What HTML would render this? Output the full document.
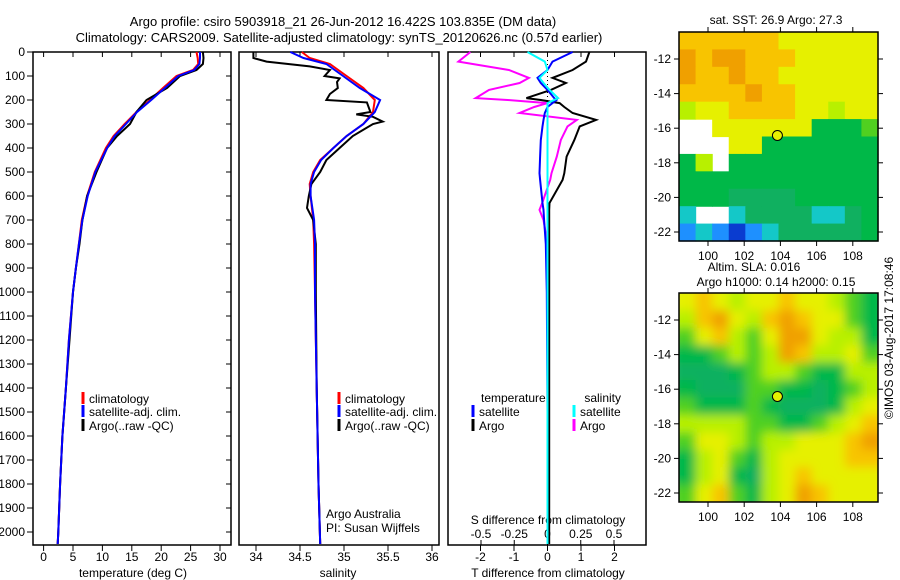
<!DOCTYPE html>
<html><head><meta charset="utf-8"><style>
body{margin:0;background:#fff;}
svg{display:block;font-family:"Liberation Sans",sans-serif;font-size:12px;}
</style></head><body>
<svg id="c" width="900" height="580" viewBox="0 0 900 580">
<defs>
<filter id="blur" x="-5%" y="-5%" width="110%" height="110%"><feGaussianBlur stdDeviation="5"/></filter>
<clipPath id="clipSla"><rect x="679" y="293" width="199" height="209"/></clipPath>
</defs>
<text x="343" y="26" text-anchor="middle" font-size="13">Argo profile: csiro 5903918_21 26-Jun-2012 16.422S 103.835E (DM data)</text>
<text x="339" y="42" text-anchor="middle" font-size="13">Climatology: CARS2009. Satellite-adjusted climatology: synTS_20120626.nc (0.57d earlier)</text>
<g id="g"></g>
</svg>
<script>
const depthsT=[0,25,50,75,100,150,200,250,300,350,400,500,600,700,800,900,1000,1200,1400,1600,1800,2000,2050];
const tClim=[26,26.2,26.3,25.4,22.6,20.3,18.1,15.8,13.8,11.9,10.6,8.7,7.4,6.5,6.0,5.5,5.0,4.3,3.8,3.2,2.8,2.5,2.4];
const tSat=[26.6,26.6,26.5,25.6,22.9,20.6,18.3,15.9,14.0,12.1,10.8,8.8,7.5,6.6,6.0,5.5,5.0,4.3,3.8,3.2,2.8,2.5,2.4];
const tArgo=[27.1,27.2,27.1,26.0,23.2,21.0,17.5,15.8,14.7,12.5,10.8,9.0,7.4,6.6,6.1,5.5,5.0,4.4,3.8,3.2,2.8,2.5,2.4];
const depthsS=[0,25,50,100,150,200,250,300,350,400,450,500,550,600,700,800,1000,1400,1800,2050];
const sClim=[34.52,34.61,34.84,35.03,35.22,35.35,35.33,35.22,35.03,34.88,34.73,34.65,34.61,34.62,34.65,34.66,34.67,34.69,34.71,34.73];
const sSat=[34.39,34.54,34.80,34.99,35.18,35.41,35.35,35.22,35.03,34.88,34.74,34.66,34.62,34.62,34.66,34.67,34.67,34.69,34.71,34.73];
const depthsSA=[0,25,40,60,75,100,110,125,150,175,200,210,250,260,270,290,300,350,400,450,500,550,600,650,700,800,1000,1400,1800,2050];
const sArgo=[33.97,33.97,34.12,34.61,34.84,34.78,34.95,34.92,34.93,34.84,34.80,35.26,35.30,35.14,35.33,35.44,35.33,35.10,34.95,34.80,34.73,34.63,34.60,34.58,34.65,34.68,34.68,34.69,34.71,34.73];
const depthsD=[0,40,75,108,129,158,192,200,213,229,254,283,310,367,436,505,533,629,658,700,800,1000,1500,2050];
const dTsat=[0.75,0.15,0,-0.3,-0.2,0,0.2,0.27,0.15,0,-0.08,-0.12,-0.15,-0.2,-0.22,-0.24,-0.22,-0.15,-0.12,-0.1,-0.05,-0.02,0,0];
const dTargo=[1.25,1.15,0.75,0.15,0.55,0.1,-0.63,-0.2,0.36,0.5,0.75,1.45,0.96,0.8,0.57,0.5,0.45,0.06,0.05,0.05,0.05,0.05,0.05,0.05];
const dSsat=[-0.15,-0.02,0,-0.06,-0.03,0.015,0.08,0.05,0,0,0,0,0,0,0,0,0,0,0,0,0,0,0,0];
const dSargo=[-0.58,-0.67,-0.29,-0.14,-0.21,-0.44,-0.54,-0.3,0,-0.1,-0.21,0.22,0.15,0.1,0.07,0.03,0.02,-0.04,-0.06,-0.03,0,0,0,0];
const tTicks=[0,5,10,15,20,25,30];
const sTicks=[34,34.5,35,35.5,36];
const dTTicks=[-2,-1,0,1,2];
const dSTicks=[-0.5,-0.25,0,0.25,0.5];
const depthTicks=[0,100,200,300,400,500,600,700,800,900,1000,1100,1200,1300,1400,1500,1600,1700,1800,1900,2000];
const lons=[100,102,104,106,108];
const lats=[-12,-14,-16,-18,-20,-22];
const sstGrid=[
[8,8,8,8,8,8,7,7,7,7,7,7],[9,8,9,9,8,8,8,7,7,7,7,7],[9,8,8,9,8,8,7,7,7,7,7,7],[8,8,8,8,9,8,8,7,7,7,7,7],
[6,7,7,8,8,8,8,7,7,6,7,7],[-1,-1,7,7,7,7,7,7,4,4,4,5],[-1,-1,-1,7,7,4,4,4,4,4,4,4],[4,6,-1,4,4,4,4,4,4,4,4,4],
[4,4,4,4,4,4,4,4,4,4,4,4],[4,4,4,3,3,3,3,4,4,4,4,4],[2,-1,-1,2,3,3,3,3,2,2,3,4],[1,2,1,0,1,2,3,3,3,3,3,4]];
const slaGrid=[
[7,8,7,6,7,7,8,7,7,6,5,4],[6,8,9,7,6,8,9,8,7,7,5,4],[5,7,8,6,5,7,9,9,7,6,6,4],[4,4,5,6,5,6,9,8,6,6,7,5],
[3,3,3,4,5,6,6,5,4,4,6,6],[4,3,3,3,5,5,4,4,3,4,5,6],[5,4,4,4,5,4,3,3,3,4,6,7],[6,6,6,6,5,5,4,4,5,6,7,8],
[5,7,7,6,5,6,6,7,7,7,8,9],[4,6,7,5,4,6,7,7,7,7,8,8],[4,6,7,4,3,6,7,8,7,7,7,7],[5,7,8,5,4,6,7,9,8,7,7,7]];
const argoLon=103.835, argoLat=-16.422;
const cmap=['#0a3cd0','#1e90ff','#14c8c8','#10b060','#00b848','#50d020','#b8f000','#e6f000','#f8c400','#f0a000'];

const NS='http://www.w3.org/2000/svg';
const G=document.getElementById('g');
function el(t,a,p){const e=document.createElementNS(NS,t);for(const k in a)e.setAttribute(k,a[k]);(p||G).appendChild(e);return e;}
const Y=d=>52+d*0.24;
const T=v=>43.6+v*5.88, S=v=>256+(v-34)*88, DT=v=>547.5+v*33.5, DS=v=>547.5+v*133;
function line(ds,vs,fx,col,name){
  const p=el('polyline',{points:ds.map((d,i)=>fx(vs[i]).toFixed(1)+','+Y(d).toFixed(1)).join(' '),fill:'none',stroke:col,'stroke-width':2});
  
  
}
function txt(x,y,s,anchor,name,extra){const t=el('text',Object.assign({x:x,y:y,'text-anchor':anchor||'start'},extra||{}));t.textContent=s;
  
  return t;}
function frame(x1,x2,name){const r=el('rect',{x:x1,y:52,width:x2-x1,height:493,fill:'none',stroke:'#000','stroke-width':1.5});
  
  }
depthTicks.forEach(d=>{el('line',{x1:27,x2:33,y1:Y(d),y2:Y(d),stroke:'#000'});el('line',{x1:226,x2:231,y1:Y(d),y2:Y(d),stroke:'#000'});
 txt(25,Y(d)+4,String(d),'end','depth-tick-label');});
frame(33,231,'temperature-panel');frame(239,439,'salinity-panel');frame(448,646,'difference-panel');
tTicks.forEach(v=>{el('line',{x1:T(v),x2:T(v),y1:545,y2:551,stroke:'#000'});el('line',{x1:T(v),x2:T(v),y1:52,y2:57,stroke:'#000'});txt(T(v),561,String(v),'middle','temperature-tick-label');});
sTicks.forEach(v=>{el('line',{x1:S(v),x2:S(v),y1:545,y2:551,stroke:'#000'});el('line',{x1:S(v),x2:S(v),y1:52,y2:57,stroke:'#000'});txt(S(v),561,String(v),'middle','salinity-tick-label');});
dTTicks.forEach(v=>{el('line',{x1:DT(v),x2:DT(v),y1:545,y2:551,stroke:'#000'});el('line',{x1:DT(v),x2:DT(v),y1:52,y2:57,stroke:'#000'});txt(DT(v),561,String(v),'middle','t-diff-tick-label');});
dSTicks.forEach(v=>{el('line',{x1:DS(v),x2:DS(v),y1:540,y2:545,stroke:'#000'});txt(DS(v),538,String(v),'middle','s-diff-tick-label');});
txt(133,577,'temperature (deg C)','middle','temperature-axis-title');
txt(338,577,'salinity','middle','salinity-axis-title');
txt(548,577,'T difference from climatology','middle','t-diff-axis-title');
txt(548,524,'S difference from climatology','middle','s-diff-axis-title');
el('line',{x1:DT(0),x2:DT(0),y1:52,y2:545,stroke:'#000','stroke-dasharray':'1,3'});
line(depthsT,tClim,T,'#f00','temperature-climatology-line');
line(depthsT,tArgo,T,'#000','temperature-argo-line');
line(depthsT,tSat,T,'#00f','temperature-satellite-line');
line(depthsS,sClim,S,'#f00','salinity-climatology-line');
line(depthsSA,sArgo,S,'#000','salinity-argo-line');
line(depthsS,sSat,S,'#00f','salinity-satellite-line');
line(depthsD,dSargo,DS,'#f0f','s-diff-argo-line');
line(depthsD,dTargo,DT,'#000','t-diff-argo-line');
line(depthsD,dTsat,DT,'#00f','t-diff-satellite-line');
line(depthsD,dSsat,DS,'#0ff','s-diff-satellite-line');
function leg(x,y,col,s,name){el('line',{x1:x,x2:x,y1:y-11,y2:y+1,stroke:col,'stroke-width':3});txt(x+6,y,s,'start',name);}
[[83,0],[339,0]].forEach(([x])=>{leg(x,403,'#f00','climatology','legend-climatology');leg(x,416,'#00f','satellite-adj. clim.','legend-satellite');leg(x,430,'#000','Argo(..raw -QC)','legend-argo');});
txt(481,402,'temperature','start','legend-temperature-header');txt(621,402,'salinity','end','legend-salinity-header');
leg(473,416,'#00f','satellite','legend-t-satellite');leg(473,430,'#000','Argo','legend-t-argo');
leg(574,416,'#0ff','satellite','legend-s-satellite');leg(574,430,'#f0f','Argo','legend-s-argo');
txt(326,518,'Argo Australia','start','credit-argo-australia');txt(326,532,'PI: Susan Wijffels','start','credit-pi');
function map(grid,top,name,latTop,smooth){
  const X=lo=>708+(lo-100)*18.1, YY=la=>latTop+(-12-la)*17.3;
  const w=199/12,h=209/12;
  let parent=G;
  if(smooth){const outer=el('g',{'clip-path':'url(#clipSla)'});parent=el('g',{filter:'url(#blur)'},outer);}
  grid.forEach((row,r)=>row.forEach((v,c)=>{if(v<0)return;
    const x0=679+c*w-(smooth&&c==0?8:0), y0=top+r*h-(smooth&&r==0?8:0);
    const ww=w+0.6+(smooth&&(c==0||c==11)?8:0), hh=h+0.6+(smooth&&(r==0||r==11)?8:0);
    const rc=el('rect',{x:x0.toFixed(2),y:y0.toFixed(2),width:ww.toFixed(2),height:hh.toFixed(2),fill:cmap[v]},parent);
    
    }));
  const f=el('rect',{x:679,y:top,width:199,height:209,fill:'none',stroke:'#000','stroke-width':1.5});
  
  
  lons.forEach(lo=>{el('line',{x1:X(lo),x2:X(lo),y1:top+209,y2:top+214,stroke:'#000'});el('line',{x1:X(lo),x2:X(lo),y1:top-5,y2:top,stroke:'#000'});txt(X(lo),top+228,String(lo),'middle',name+'-lon-label');});
  lats.forEach(la=>{el('line',{x1:674,x2:679,y1:YY(la),y2:YY(la),stroke:'#000'});el('line',{x1:878,x2:883,y1:YY(la),y2:YY(la),stroke:'#000'});txt(671,YY(la)+4,String(la),'end',name+'-lat-label');});
  const c=el('circle',{cx:X(argoLon),cy:YY(argoLat),r:5,fill:'#e6f000',stroke:'#000'});
  
  
}
map(sstGrid,32,'sst-map',59,false);
map(slaGrid,293,'sla-map',320,true);
txt(776,24,'sat. SST: 26.9 Argo: 27.3','middle','sst-map-title');
txt(754,271,'Altim. SLA: 0.016','middle','sla-map-title');
txt(776,286,'Argo h1000: 0.14 h2000: 0.15','middle','sla-map-subtitle');
txt(897,338,'©IMOS 03-Aug-2017 17:08:46','middle','imos-timestamp',{transform:'rotate(-90 897 338)'}).setAttribute('dy','-4');
</script>
</body></html>
